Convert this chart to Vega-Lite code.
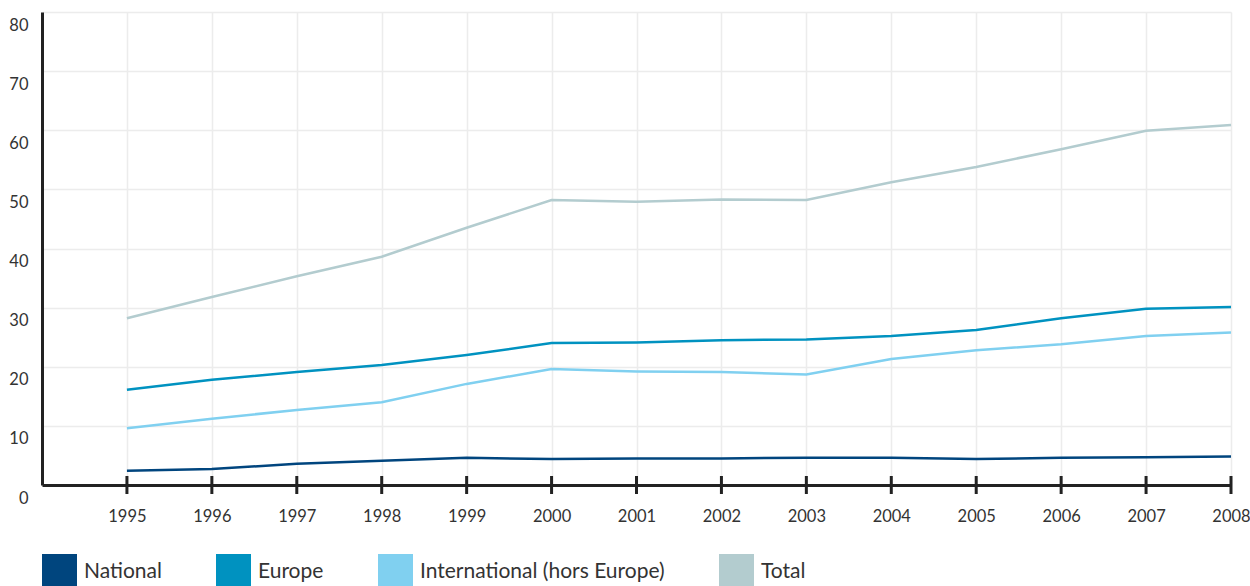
{
  "$schema": "https://vega.github.io/schema/vega-lite/v6.json",
  "width": 1189,
  "height": 473,
  "autosize": "none",
  "padding": {"left": 42, "top": 12, "right": 19, "bottom": 101},
  "background": "white",
  "config": {
    "view": {"stroke": null},
    "font": "Lato",
    "axis": {"labelFont": "Lato", "labelFontSize": 16.5, "labelColor": "#333", "gridColor": "#ececec", "gridWidth": 1.5}
  },
  "data": {"values": [
    {"year": 1995, "series": "National", "value": 2.4},
    {"year": 1996, "series": "National", "value": 2.7},
    {"year": 1997, "series": "National", "value": 3.6},
    {"year": 1998, "series": "National", "value": 4.1},
    {"year": 1999, "series": "National", "value": 4.6},
    {"year": 2000, "series": "National", "value": 4.4},
    {"year": 2001, "series": "National", "value": 4.5},
    {"year": 2002, "series": "National", "value": 4.5},
    {"year": 2003, "series": "National", "value": 4.6},
    {"year": 2004, "series": "National", "value": 4.6},
    {"year": 2005, "series": "National", "value": 4.4},
    {"year": 2006, "series": "National", "value": 4.6},
    {"year": 2007, "series": "National", "value": 4.7},
    {"year": 2008, "series": "National", "value": 4.8},
    {"year": 1995, "series": "Europe", "value": 16.1},
    {"year": 1996, "series": "Europe", "value": 17.8},
    {"year": 1997, "series": "Europe", "value": 19.1},
    {"year": 1998, "series": "Europe", "value": 20.3},
    {"year": 1999, "series": "Europe", "value": 22.0},
    {"year": 2000, "series": "Europe", "value": 24.0},
    {"year": 2001, "series": "Europe", "value": 24.1},
    {"year": 2002, "series": "Europe", "value": 24.5},
    {"year": 2003, "series": "Europe", "value": 24.6},
    {"year": 2004, "series": "Europe", "value": 25.2},
    {"year": 2005, "series": "Europe", "value": 26.2},
    {"year": 2006, "series": "Europe", "value": 28.2},
    {"year": 2007, "series": "Europe", "value": 29.8},
    {"year": 2008, "series": "Europe", "value": 30.1},
    {"year": 1995, "series": "International (hors Europe)", "value": 9.6},
    {"year": 1996, "series": "International (hors Europe)", "value": 11.2},
    {"year": 1997, "series": "International (hors Europe)", "value": 12.7},
    {"year": 1998, "series": "International (hors Europe)", "value": 14.0},
    {"year": 1999, "series": "International (hors Europe)", "value": 17.1},
    {"year": 2000, "series": "International (hors Europe)", "value": 19.6},
    {"year": 2001, "series": "International (hors Europe)", "value": 19.2},
    {"year": 2002, "series": "International (hors Europe)", "value": 19.1},
    {"year": 2003, "series": "International (hors Europe)", "value": 18.7},
    {"year": 2004, "series": "International (hors Europe)", "value": 21.3},
    {"year": 2005, "series": "International (hors Europe)", "value": 22.8},
    {"year": 2006, "series": "International (hors Europe)", "value": 23.8},
    {"year": 2007, "series": "International (hors Europe)", "value": 25.2},
    {"year": 2008, "series": "International (hors Europe)", "value": 25.8},
    {"year": 1995, "series": "Total", "value": 28.2},
    {"year": 1996, "series": "Total", "value": 31.8},
    {"year": 1997, "series": "Total", "value": 35.3},
    {"year": 1998, "series": "Total", "value": 38.6},
    {"year": 1999, "series": "Total", "value": 43.5},
    {"year": 2000, "series": "Total", "value": 48.2},
    {"year": 2001, "series": "Total", "value": 47.9},
    {"year": 2002, "series": "Total", "value": 48.3},
    {"year": 2003, "series": "Total", "value": 48.2},
    {"year": 2004, "series": "Total", "value": 51.2},
    {"year": 2005, "series": "Total", "value": 53.8},
    {"year": 2006, "series": "Total", "value": 56.8},
    {"year": 2007, "series": "Total", "value": 59.9},
    {"year": 2008, "series": "Total", "value": 60.9}
  ]},
  "layer": [
    {
      "mark": {"type": "line", "strokeWidth": 2.5},
      "encoding": {
        "x": {"field": "year", "type": "quantitative",
          "scale": {"domain": [1994, 2008], "nice": false, "zero": false},
          "axis": {"title": null, "values": [1995,1996,1997,1998,1999,2000,2001,2002,2003,2004,2005,2006,2007,2008], "format": "d",
            "domainColor": "#222", "domainWidth": 3, "ticks": false, "labelPadding": 23, "labelFlush": false, "labelOverlap": false, "grid": true}},
        "y": {"field": "value", "type": "quantitative",
          "scale": {"domain": [0, 80], "nice": false},
          "axis": {"title": null, "values": [0,10,20,30,40,50,60,70,80], "domainColor": "#222", "domainWidth": 3,
            "ticks": false, "labelPadding": 14, "labelOffset": 13, "labelFlush": false, "grid": true}},
        "color": {"field": "series", "type": "nominal",
          "scale": {"domain": ["National", "Europe", "International (hors Europe)", "Total"],
                    "range": ["#00457e", "#0092c0", "#80d0f0", "#b3cccf"]},
          "legend": {"title": null, "orient": "none", "legendX": 0, "legendY": 542, "direction": "horizontal",
            "symbolType": "square", "symbolSize": 1225, "symbolStrokeWidth": 0, "labelFontSize": 21, "labelColor": "#333",
            "labelFont": "Lato", "labelLimit": 500, "labelOffset": 7, "columnPadding": 54, "padding": 0,
            "encode": {"symbols": {"update": {"fill": {"scale": "color", "field": "value"}, "strokeWidth": {"value": 0}, "opacity": {"value": 1}}}}}
        }
      }
    },
    {
      "transform": [{"filter": "datum.series === 'Total'"}],
      "mark": {"type": "tick", "orient": "vertical", "size": 18, "thickness": 3, "color": "#222", "opacity": 1},
      "encoding": {
        "x": {"field": "year", "type": "quantitative"},
        "y": {"datum": 0}
      }
    }
  ]
}
